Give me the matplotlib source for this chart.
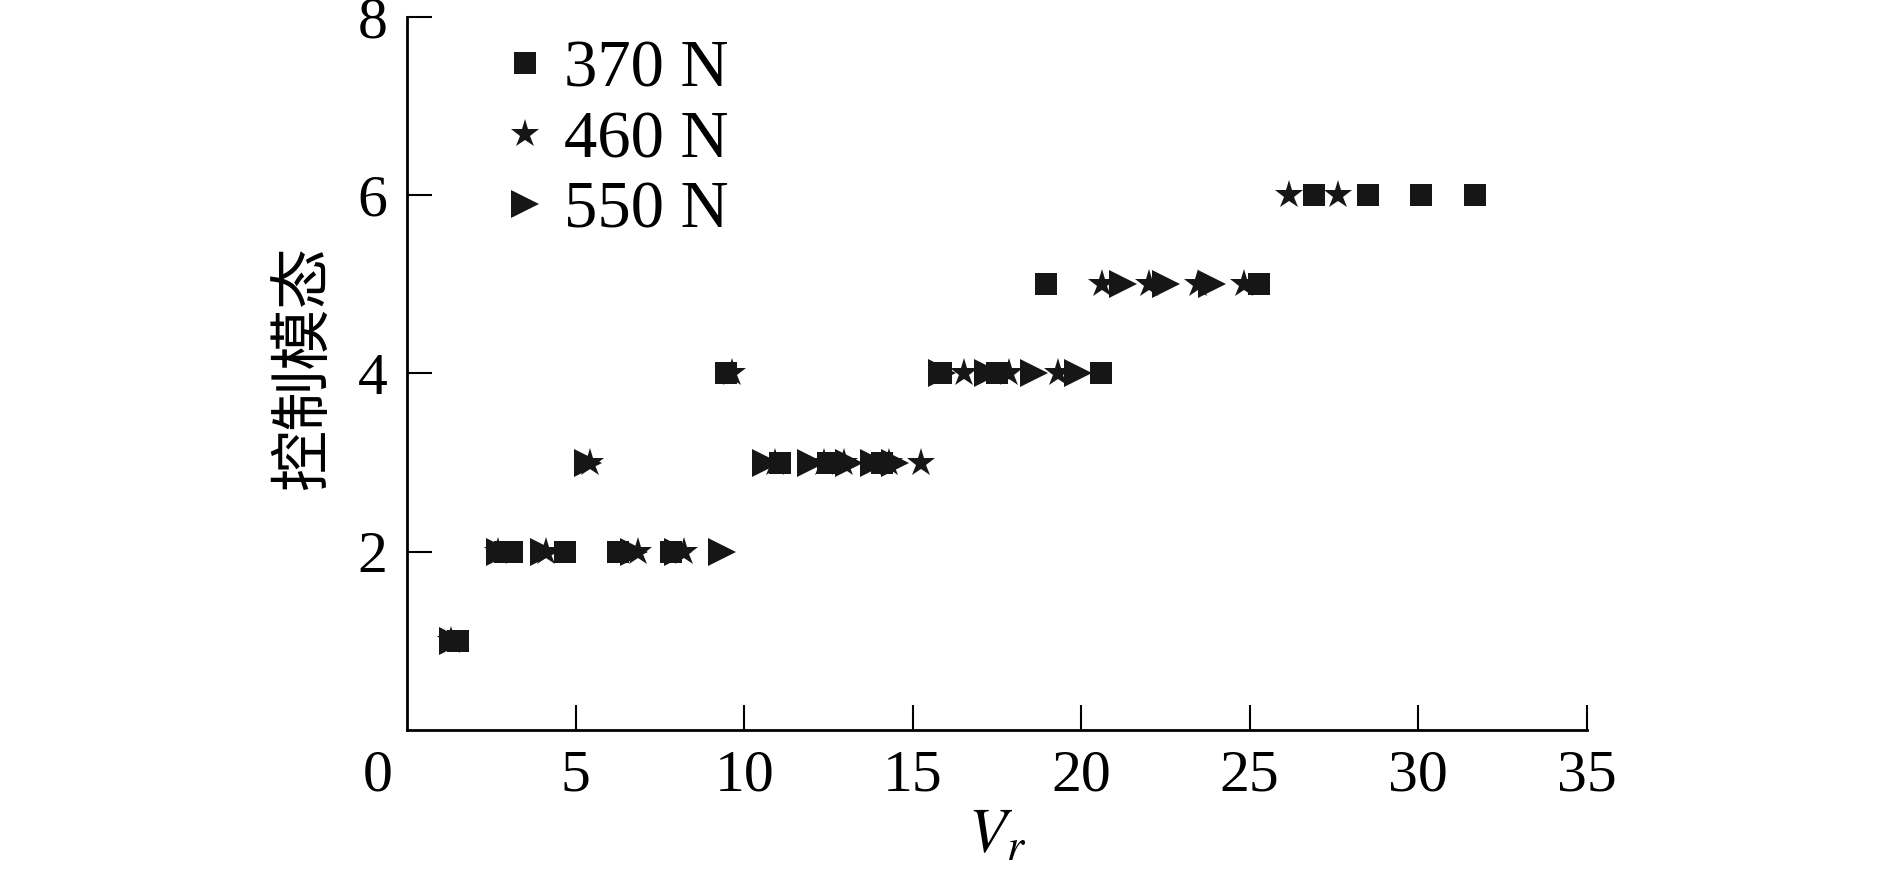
import numpy as np
import matplotlib
matplotlib.use("Agg")
import matplotlib.pyplot as plt

plt.rcParams['font.family'] = ['Liberation Serif', 'DejaVu Serif']
plt.rcParams['mathtext.fontset'] = 'stix'

# 370 N (squares)
x_370 = [1.52, 2.9, 3.1, 4.70, 6.26, 7.84, 9.47, 11.07, 12.5, 14.1, 15.85, 17.49,
         18.96, 20.59, 25.28, 26.92, 28.50, 30.07, 31.68]
y_370 = [1, 2, 2, 2, 2, 2, 4, 3, 3, 3, 4, 4, 5, 4, 5, 6, 6, 6, 6]

# 460 N (stars)
x_460 = [1.3, 2.7, 4.12, 5.43, 6.84, 8.22, 9.63, 10.93, 12.36, 12.96, 14.29, 15.24,
         16.52, 17.86, 19.30, 20.63, 22.02, 23.46, 24.84, 26.16, 27.63]
y_460 = [1, 2, 2, 3, 2, 2, 4, 3, 3, 3, 3, 3, 4, 4, 4, 5, 5, 5, 5, 6, 6]

# 550 N (triangles)
x_550 = [1.37, 2.75, 4.05, 5.36, 6.74, 8.05, 9.34, 10.66, 11.97, 13.1, 13.85, 14.49,
         15.88, 17.24, 18.61, 19.92, 21.23, 22.52, 23.88]
y_550 = [1, 2, 2, 3, 2, 2, 2, 3, 3, 3, 3, 3, 4, 4, 4, 4, 5, 5, 5]

labels = ['370 N', '460 N', '550 N']
xticks = [5, 10, 15, 20, 25, 30, 35]
yticks = [2, 4, 6, 8]

col = '#161616'

fig = plt.figure(figsize=(18.89, 8.75), dpi=100)
ax = fig.add_axes([0.2155, 0.1657, 0.6245, 0.8149])

ax.plot(x_370, y_370, ls='none', marker='s', ms=16, color=col, mew=0, label=labels[0])
ax.plot(x_460, y_460, ls='none', marker='*', ms=21, color=col, mew=0, label=labels[1])
ax.plot(x_550, y_550, ls='none', marker='>', ms=20, color=col, mew=0, label=labels[2])

ax.set_xlim(0, 35)
ax.set_ylim(0, 8)
ax.set_xticks(xticks)
ax.set_yticks(yticks)
ax.spines['top'].set_visible(False)
ax.spines['right'].set_visible(False)
for s in ['left', 'bottom']:
    ax.spines[s].set_linewidth(2)
ax.tick_params(direction='in', length=18, width=1.5, pad=14, labelsize=43)

# shared origin label
ax.annotate('0', xy=(0, 0), xycoords='data', xytext=(-21, -14),
            textcoords='offset points', ha='center', va='top', fontsize=43)

ax.set_xlabel(r'$V_r$', fontsize=45)
ax.xaxis.set_label_coords(0.5, -0.11)
ax.set_ylabel('控制模态', fontsize=44, family=['Noto Sans CJK SC', 'DejaVu Sans'])
ax.yaxis.set_label_coords(-0.061, 0.508)

ax.legend(loc='upper left', bbox_to_anchor=(0.079, 0.968), frameon=False,
          fontsize=48, handlelength=0.75, handletextpad=0.2, labelspacing=0.14,
          borderpad=0, borderaxespad=0, markerscale=1.0)

fig.savefig('out.png', dpi=100)
